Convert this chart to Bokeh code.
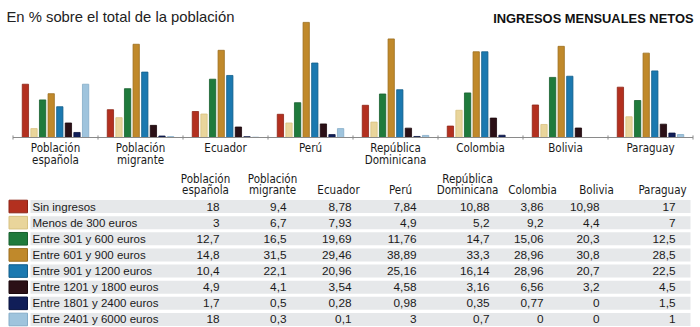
from bokeh.plotting import figure
from bokeh.layouts import column
from bokeh.models import Range1d, Label, ColumnDataSource
from bokeh.core.properties import value
from bokeh.embed import file_html
from bokeh.resources import INLINE

# ---------------- data ----------------
groups = ["Población\nespañola", "Población\nmigrante", "Ecuador", "Perú",
          "República\nDominicana", "Colombia", "Bolivia", "Paraguay"]
series_names = ["Sin ingresos", "Menos de 300 euros", "Entre 301 y 600 euros",
                "Entre 601 y 900 euros", "Entre 901 y 1200 euros",
                "Entre 1201 y 1800 euros", "Entre 1801 y 2400 euros",
                "Entre 2401 y 6000 euros"]
sin_ingresos = [18, 9.4, 8.78, 7.84, 10.88, 3.86, 10.98, 17]
menos_300 = [3, 6.7, 7.93, 4.9, 5.2, 9.2, 4.4, 7]
e301_600 = [12.7, 16.5, 19.69, 11.76, 14.7, 15.06, 20.3, 12.5]
e601_900 = [14.8, 31.5, 29.46, 38.89, 33.3, 28.96, 30.8, 28.5]
e901_1200 = [10.4, 22.1, 20.96, 25.16, 16.14, 28.96, 20.7, 22.5]
e1201_1800 = [4.9, 4.1, 3.54, 4.58, 3.16, 6.56, 3.2, 4.5]
e1801_2400 = [1.7, 0.5, 0.28, 0.98, 0.35, 0.77, 0, 1.5]
e2401_6000 = [18, 0.3, 0.1, 3, 0.7, 0, 0, 1]
series_values = [sin_ingresos, menos_300, e301_600, e601_900, e901_1200,
                 e1201_1800, e1801_2400, e2401_6000]
colors = ["#b3301f", "#e9d59b", "#1f7a3c", "#c0892b", "#1b79b0",
          "#2b1016", "#101e58", "#9fc4dd"]
line_colors = ["#8e2416", "#d8c282", "#175f2e", "#9c6e20", "#135e8a",
               "#1a080c", "#0a1440", "#84acc8"]

TITLE = "En % sobre el total de la población"
SUBTITLE = "INGRESOS MENSUALES NETOS"

NARROW = "Liberation Sans Narrow, Arial Narrow, DejaVu Sans Condensed, Liberation Sans, sans-serif"
SANS = "Liberation Sans, Arial, sans-serif"

# ---------------- top: bar chart ----------------
W = 700
H1 = 172
PXU = 85.0          # pixels per group
base_px = 137.0     # baseline, px from top
ypx = 2.96          # px per percent

p = figure(width=W, height=H1, output_backend="svg", toolbar_location=None,
           x_range=Range1d(-55 / PXU, -55 / PXU + W / PXU),
           y_range=Range1d(-(H1 - base_px) / ypx, base_px / ypx),
           min_border=0, outline_line_color=None, background_fill_color="white",
           border_fill_color="white")
p.axis.visible = False
p.grid.visible = False

n_groups = len(groups)
n_series = len(series_names)
step = 8.6 / PXU
for s in range(n_series):
    xs = [g + (s - (n_series - 1) / 2) * step for g in range(n_groups)]
    src = ColumnDataSource(dict(x=xs, top=series_values[s]))
    p.vbar(x="x", top="top", bottom=0, width=6.3 / PXU, source=src,
           fill_color=colors[s], line_color=line_colors[s], line_width=0.8)

# baseline axis and ticks
p.segment(x0=[-0.5], y0=[0], x1=[n_groups - 0.5], y1=[0], line_color="#8a8a8a", line_width=1)
tick_x = [g - 0.5 for g in range(n_groups + 1)]
p.segment(x0=tick_x, y0=[0.7] * len(tick_x), x1=tick_x, y1=[-0.7] * len(tick_x),
          line_color="#8a8a8a", line_width=1)

for line_no, off in enumerate([10.5, 22]):
    xs, txt = [], []
    for g, name in enumerate(groups):
        parts = name.split("\n")
        if line_no < len(parts):
            xs.append(g)
            txt.append(parts[line_no])
    p.text(x=xs, y=[0] * len(xs), text=txt,
           text_font=value(NARROW), text_font_size="11.5px", text_color="#1a1a1a",
           text_align="center", text_baseline="middle", y_offset=off)

p.add_layout(Label(x=6, y=H1 - 16, x_units="screen", y_units="screen", text=TITLE,
                   text_font=SANS, text_font_size="14.8px", text_color="#222222",
                   text_baseline="alphabetic"))
p.add_layout(Label(x=693, y=H1 - 18, x_units="screen", y_units="screen", text=SUBTITLE,
                   text_font=SANS, text_font_size="12.9px", text_font_style="bold",
                   text_color="#111111", text_align="right", text_baseline="alphabetic"))

# ---------------- bottom: table ----------------
H2 = 327 - H1
t = figure(width=W, height=H2, output_backend="svg", toolbar_location=None,
           x_range=Range1d(0, W), y_range=Range1d(H2, 0),
           min_border=0, outline_line_color=None, background_fill_color="white",
           border_fill_color="white")
t.axis.visible = False
t.grid.visible = False

row0 = 206.0 - H1
row_step = 16.14
rows_y = [row0 + r * row_step for r in range(n_series)]
head_y1 = 178.0 - H1
head_y2 = 189.0 - H1

# stripes
t.quad(left=[30] * n_series, right=[690] * n_series,
       top=[y - 6.5 for y in rows_y], bottom=[y + 6.5 for y in rows_y],
       fill_color="#e6e8ea", line_color=None)
# swatches
t.quad(left=[8.5] * n_series, right=[27] * n_series,
       top=[y - 6.3 for y in rows_y], bottom=[y + 6.3 for y in rows_y],
       fill_color=colors, line_color=line_colors, line_width=1)
# row labels
t.text(x=[32] * n_series, y=rows_y, text=series_names,
       text_font=value(SANS), text_font_size="11.5px", text_color="#1a1a1a",
       text_align="left", text_baseline="middle")

col_center = [205, 272, 338, 400, 467, 532, 596, 662]
col_right = [219, 286, 351, 416, 489, 543, 599, 675]

# headers
for g, name in enumerate(groups):
    lines = name.split("\n")
    ys = [head_y1, head_y2] if len(lines) == 2 else [head_y2]
    t.text(x=[col_center[g]] * len(lines), y=ys, text=lines,
           text_font=value(NARROW), text_font_size="11.5px", text_color="#1a1a1a",
           text_align="center", text_baseline="middle")

# values
def fmt(v):
    return str(v).replace(".", ",")

for g in range(n_groups):
    vals = [fmt(series_values[s][g]) for s in range(n_series)]
    t.text(x=[col_right[g]] * n_series, y=rows_y, text=vals,
           text_font=value(SANS), text_font_size="11.8px", text_color="#1a1a1a",
           text_align="right", text_baseline="middle")

layout = column(p, t, spacing=0)
open("out.html", "w").write(file_html(layout, INLINE))
